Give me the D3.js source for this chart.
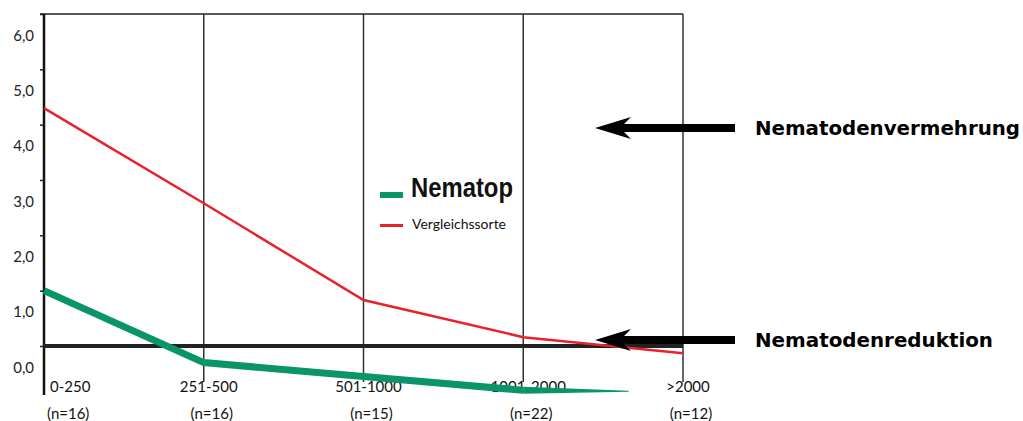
<!DOCTYPE html>
<html>
<head>
<meta charset="utf-8">
<script src="https://cdn.jsdelivr.net/npm/d3@7"></script>
<style>
  body { margin: 0; background: #fff; }
  svg { display: block; }
</style>
</head>
<body>
<svg id="chart"></svg>
<script>
// data
var categories = ["0-250", "251-500", "501-1000", "1001-2000", ">2000"];
var counts = ["(n=16)", "(n=16)", "(n=15)", "(n=22)", "(n=12)"];
var nematop = [1.0, -0.3, -0.55, -0.8];            // green, ends after 1001-2000
var vergleichssorte = [4.3, 2.58, 0.83, 0.16, -0.13];
var yTicks = [0, 1, 2, 3, 4, 5, 6];
var threshold = 0;

var width = 1023, height = 421;
var green = "#0a9469", red = "#e8212b";

var svg = d3.select("#chart").attr("width", width).attr("height", height);

var x = d3.scalePoint().domain(d3.range(categories.length)).range([44, 683]);
var y = d3.scaleLinear().domain([0, 6]).range([346, 14]);

// frame: top line + vertical grid lines
svg.append("line")
    .attr("x1", 40).attr("x2", x(4)).attr("y1", y(6)).attr("y2", y(6))
    .attr("stroke", "#222").attr("stroke-width", 1.5);

svg.selectAll(".grid")
    .data(d3.range(1, categories.length))
  .enter().append("line")
    .attr("class", "grid")
    .attr("x1", function(d) { return x(d); })
    .attr("x2", function(d) { return x(d); })
    .attr("y1", y(6)).attr("y2", 382)
    .attr("stroke", "#333").attr("stroke-width", 1.5);

// y axis
var yAxis = d3.axisLeft(y)
    .tickValues(yTicks)
    .tickSize(4)
    .tickFormat(function(d) { return d.toFixed(1).replace(".", ","); });

var gy = svg.append("g")
    .attr("transform", "translate(" + x(0) + ",0)")
    .call(yAxis);
gy.select(".domain").remove();
gy.selectAll(".tick line").attr("stroke", "#222").attr("stroke-width", 1.5);
gy.selectAll(".tick text")
    .attr("x", -10).attr("dy", "1.75em")
    .style("font-family", "Lato, 'Open Sans', sans-serif")
    .style("font-size", "15px")
    .attr("fill", "#222");

svg.append("line")
    .attr("x1", x(0)).attr("x2", x(0)).attr("y1", y(6)).attr("y2", 395)
    .attr("stroke", "#111").attr("stroke-width", 2.5);

// x labels
svg.selectAll(".xlab")
    .data(categories)
  .enter().append("text")
    .attr("class", "xlab")
    .attr("x", function(d, i) { return i == 0 ? x(i) + 6 : x(i) + 5; })
    .attr("y", 392)
    .attr("text-anchor", function(d, i) { return i == 0 ? "start" : "middle"; })
    .style("font-family", "Lato, 'Open Sans', sans-serif")
    .style("font-size", "15px")
    .attr("fill", "#111")
    .text(function(d) { return d; });

svg.selectAll(".nlab")
    .data(counts)
  .enter().append("text")
    .attr("class", "nlab")
    .attr("x", function(d, i) { return i == 0 ? x(i) + 3 : x(i) + 8; })
    .attr("y", 419)
    .attr("text-anchor", function(d, i) { return i == 0 ? "start" : "middle"; })
    .style("font-family", "Lato, 'Open Sans', sans-serif")
    .style("font-size", "15px")
    .attr("fill", "#111")
    .text(function(d) { return d; });

// threshold line
svg.append("line")
    .attr("x1", x(0)).attr("x2", x(4)).attr("y1", y(threshold)).attr("y2", y(threshold))
    .attr("stroke", "#222").attr("stroke-width", 4);

var line = d3.line()
    .x(function(d, i) { return x(i); })
    .y(function(d) { return y(d); });

svg.append("path")
    .datum(vergleichssorte)
    .attr("d", line)
    .attr("fill", "none")
    .attr("stroke", red)
    .attr("stroke-width", 2.5);

svg.append("path")
    .datum(nematop)
    .attr("d", line)
    .attr("fill", "none")
    .attr("stroke", green)
    .attr("stroke-width", 7);

// tapering tail of the green line
var last = nematop.length - 1;
var tx0 = x(last), ty0 = y(nematop[last]);
var tx1 = x(last) + x.step() * 0.66, ty1 = y(nematop[last] - 0.02);
svg.append("path")
    .attr("d", "M" + tx0 + "," + (ty0 - 3.5) + "L" + tx1 + "," + (ty1 - 0.5) +
               "L" + tx1 + "," + (ty1 + 0.5) + "L" + tx0 + "," + (ty0 + 3.5) + "Z")
    .attr("fill", green);

// legend
var legend = svg.append("g").attr("transform", "translate(380,0)");
legend.append("rect").attr("x", 0).attr("y", 192).attr("width", 23).attr("height", 6).attr("fill", green);
legend.append("text")
    .attr("x", 31).attr("y", 197)
    .attr("textLength", 102).attr("lengthAdjust", "spacingAndGlyphs")
    .style("font-family", "'Liberation Sans Narrow', 'Liberation Sans', sans-serif")
    .style("font-weight", "bold")
    .style("font-size", "27px")
    .attr("fill", "#111")
    .text("Nematop");
legend.append("rect").attr("x", 0).attr("y", 224).attr("width", 23).attr("height", 3).attr("fill", red);
legend.append("text")
    .attr("x", 32).attr("y", 229)
    .attr("textLength", 94).attr("lengthAdjust", "spacingAndGlyphs")
    .style("font-family", "Lato, 'Open Sans', sans-serif")
    .style("font-size", "14px")
    .attr("fill", "#111")
    .text("Vergleichssorte");

// arrows with notes
var notes = [
  {label: "Nematodenvermehrung", cy: 128, len: 265},
  {label: "Nematodenreduktion", cy: 340, len: 238}
];
notes.forEach(function(n) {
  svg.append("path")
      .attr("d", "M595," + n.cy + "L631," + (n.cy - 11) + "L624," + (n.cy - 4) +
                 "L735," + (n.cy - 4) + "L735," + (n.cy + 4) + "L624," + (n.cy + 4) +
                 "L631," + (n.cy + 11) + "Z")
      .attr("fill", "#000");
  svg.append("text")
      .attr("x", 755).attr("y", n.cy + 7)
      .attr("textLength", n.len).attr("lengthAdjust", "spacingAndGlyphs")
      .style("font-family", "'DejaVu Sans', sans-serif")
      .style("font-weight", "bold")
      .style("font-size", "19px")
      .attr("fill", "#000")
      .text(n.label);
});
</script>
</body>
</html>
